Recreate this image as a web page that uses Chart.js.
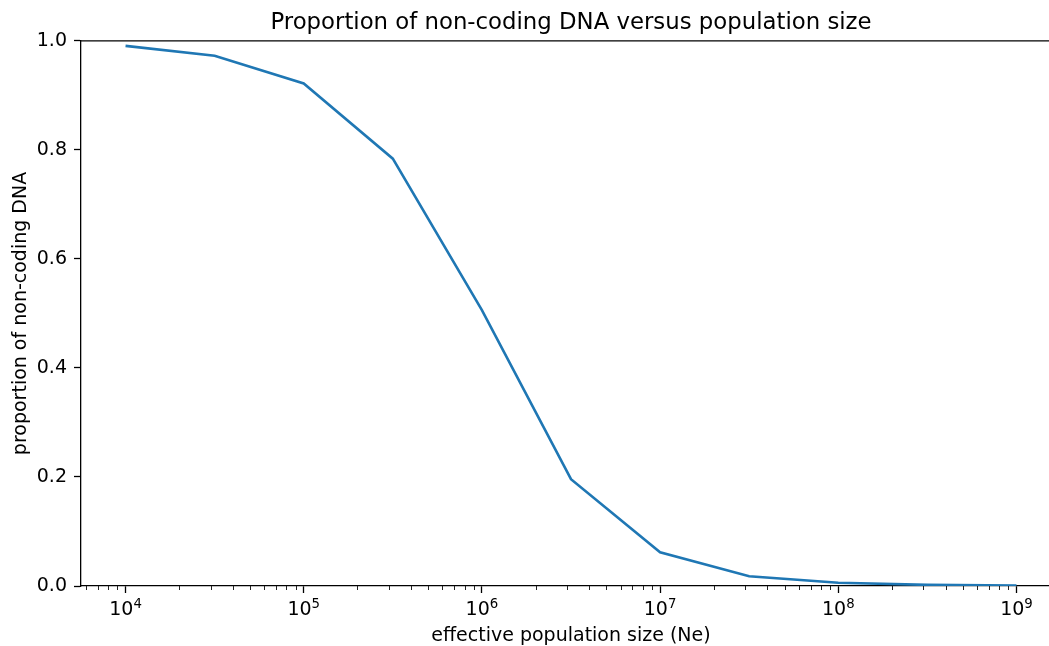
<!DOCTYPE html>
<html>
<head>
<meta charset="utf-8">
<script src="https://cdn.jsdelivr.net/npm/chart.js@4/dist/chart.umd.min.js"></script>
<style>
  html, body { margin: 0; padding: 0; background: #fff; overflow: hidden; }
  #wrap { width: 1062px; height: 646px; }
</style>
</head>
<body>
<div id="wrap"><canvas id="ncChart" width="1062" height="646"></canvas></div>
<script>
// effective population size (Ne) and proportion of non-coding DNA
const popSize = [1e4, 3.162e4, 1e5, 3.162e5, 1e6, 3.162e6, 1e7, 3.162e7, 1e8, 3.162e8, 1e9];
const nonCoding = [0.991, 0.973, 0.922, 0.784, 0.506, 0.196, 0.062, 0.018, 0.006, 0.002, 0.001];
const yTicks = [0.0, 0.2, 0.4, 0.6, 0.8, 1.0];
const xDecades = [3, 4, 5, 6, 7, 8, 9];

const font = "'DejaVu Sans', sans-serif";
const xMin = Math.pow(10, 3.75), xMax = Math.pow(10, 9.25);

function isMajor(v) {
  const e = Math.log10(v);
  return Math.abs(e - Math.round(e)) < 1e-9;
}

// top spine, short minor ticks and the 10^n labels (exponent as real superscript)
const spinesAndMinor = {
  id: 'spinesAndMinor',
  afterDraw(chart) {
    const ctx = chart.ctx, a = chart.chartArea, xs = chart.scales.x;
    ctx.save();
    ctx.strokeStyle = '#000';
    ctx.lineWidth = 1.3;
    ctx.beginPath();
    ctx.moveTo(a.left, a.top);
    ctx.lineTo(a.right, a.top);
    ctx.stroke();
    ctx.lineWidth = 1;
    ctx.strokeStyle = '#222';
    xs.ticks.forEach(t => {
      if (isMajor(t.value)) return;
      const px = Math.round(xs.getPixelForValue(t.value)) + 0.5;
      ctx.beginPath();
      ctx.moveTo(px, a.bottom);
      ctx.lineTo(px, a.bottom + 4);
      ctx.stroke();
    });
    ctx.fillStyle = '#000';
    ctx.textBaseline = 'alphabetic';
    ctx.textAlign = 'left';
    xs.ticks.forEach(t => {
      if (!isMajor(t.value)) return;
      const px = xs.getPixelForValue(t.value);
      const exp = String(Math.round(Math.log10(t.value)));
      ctx.font = "19px " + font;
      const wb = ctx.measureText('10').width;
      ctx.font = "13.3px " + font;
      const we = ctx.measureText(exp).width;
      const x0 = px - (wb + we) / 2;
      ctx.font = "19px " + font;
      ctx.fillText('10', x0, a.bottom + 29);
      ctx.font = "13.3px " + font;
      ctx.fillText(exp, x0 + wb, a.bottom + 22);
    });
    ctx.restore();
  }
};

new Chart(document.getElementById('ncChart').getContext('2d'), {
  type: 'line',
  data: {
    datasets: [{
      data: popSize.map((x, i) => ({ x: x, y: nonCoding[i] })),
      borderColor: '#1f77b4',
      borderWidth: 2.6,
      pointRadius: 0,
      fill: false,
      tension: 0
    }]
  },
  options: {
    responsive: false,
    animation: false,
    layout: { padding: { top: 0, left: 0, right: 1, bottom: 0 } },
    plugins: {
      legend: { display: false },
      tooltip: { enabled: false },
      title: {
        display: true,
        fullSize: false,
        text: 'Proportion of non-coding DNA versus population size',
        color: '#000',
        font: { family: font, size: 22.8, weight: 'normal', lineHeight: 1.2 },
        padding: { top: 9.5, bottom: 4.1 }
      }
    },
    scales: {
      x: {
        type: 'logarithmic',
        min: xMin,
        max: xMax,
        afterBuildTicks(scale) {
          const ticks = [];
          xDecades.forEach(d => {
            for (let m = 1; m <= 9; m++) {
              const v = m * Math.pow(10, d);
              if (v >= xMin && v <= xMax) ticks.push({ value: v, major: m === 1 });
            }
          });
          scale.ticks = ticks;
        },
        afterFit(scale) { scale.height = 60; },
        grid: {
          drawOnChartArea: false,
          drawTicks: true,
          tickLength: 7,
          tickWidth: 1.3,
          color: ctx => (ctx.tick && isMajor(ctx.tick.value)) ? '#000' : 'rgba(0,0,0,0)'
        },
        border: { display: true, color: '#000', width: 1.3 },
        ticks: {
          autoSkip: false,
          maxRotation: 0,
          color: '#000',
          padding: 3,
          font: { family: font, size: 19 },
          callback: () => ''
        },
        title: {
          display: true,
          text: 'effective population size (Ne)',
          color: '#000',
          font: { family: font, size: 19, lineHeight: 1 },
          padding: { top: 0, bottom: 0.5 }
        }
      },
      y: {
        min: 0,
        max: 1,
        afterBuildTicks(scale) { scale.ticks = yTicks.map(v => ({ value: v })); },
        afterFit(scale) { scale.width = 81; },
        grid: {
          drawOnChartArea: false,
          drawTicks: true,
          tickLength: 7,
          tickWidth: 1.3,
          color: '#000'
        },
        border: { display: true, color: '#000', width: 1.3 },
        ticks: {
          color: '#000',
          padding: 7,
          font: { family: font, size: 19 },
          callback: v => v.toFixed(1)
        },
        title: {
          display: true,
          text: 'proportion of non-coding DNA',
          color: '#000',
          font: { family: font, size: 19, lineHeight: 1 },
          padding: { top: 11.5, bottom: 0 }
        }
      }
    }
  },
  plugins: [spinesAndMinor]
});
</script>
</body>
</html>
